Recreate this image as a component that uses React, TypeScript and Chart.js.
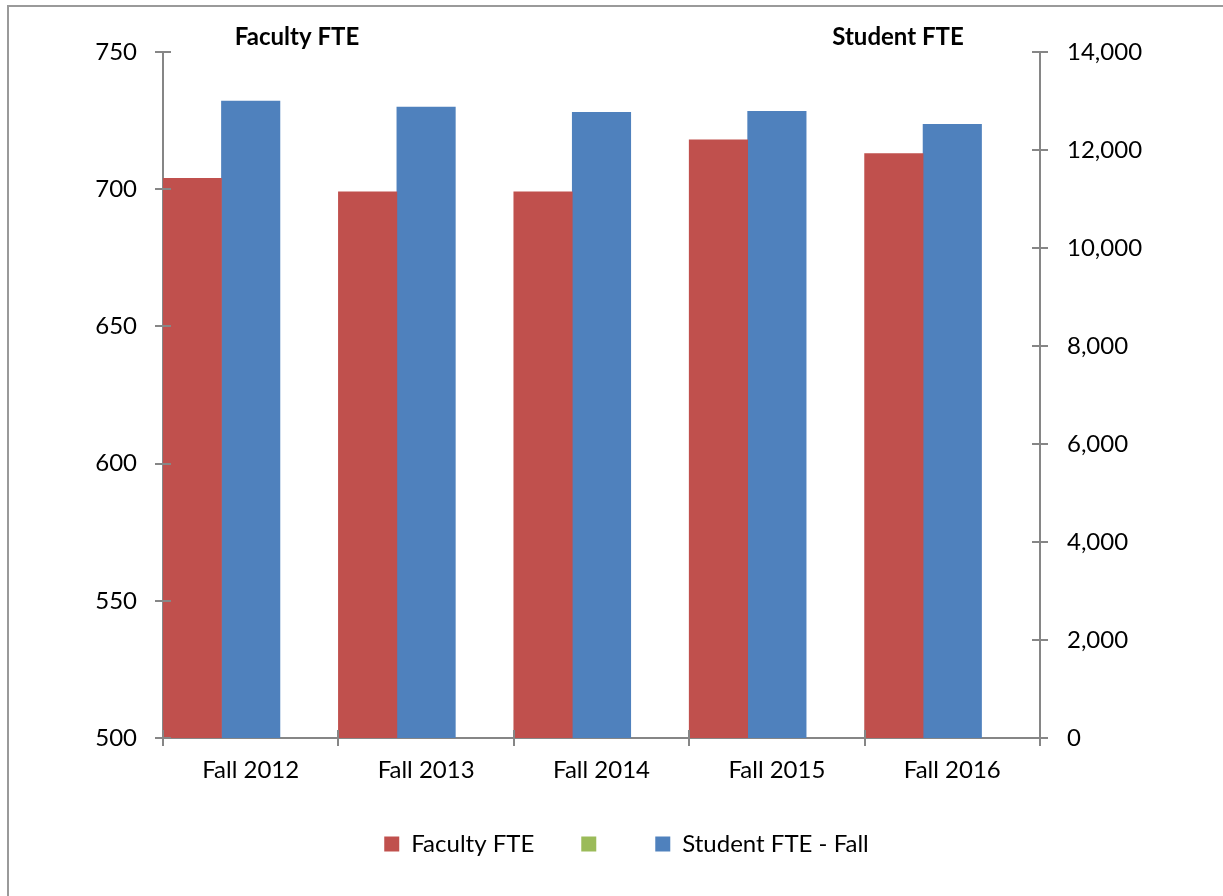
import React, { useEffect, useRef } from "react";
import { Chart, registerables } from "chart.js";

Chart.register(...registerables);

const categories = ["Fall 2012", "Fall 2013", "Fall 2014", "Fall 2015", "Fall 2016"];
const facultyFTE = [704, 699, 699, 718, 713];
const studentFTE = [13000, 12875, 12770, 12790, 12525];
const emptySeries = [null, null, null, null, null];
const leftAxisTitle = "Faculty FTE";
const rightAxisTitle = "Student FTE";
const seriesNames = ["Faculty FTE", "", "Student FTE - Fall"];

const FONT = "Lato";
const AXIS_GRAY = "#868686";

const crossTicks = {
  id: "crossTicks",
  afterDraw(chart: any) {
    const ctx = chart.ctx;
    const x = chart.scales.x;
    const yl = chart.scales.yLeft;
    const yr = chart.scales.yRight;
    ctx.save();
    ctx.strokeStyle = AXIS_GRAY;
    ctx.lineWidth = 2;
    ctx.beginPath();
    yl.ticks.forEach((t: any) => {
      const py = Math.round(yl.getPixelForValue(t.value));
      ctx.moveTo(yl.right - 8, py);
      ctx.lineTo(yl.right + 8, py);
    });
    yr.ticks.forEach((t: any) => {
      const py = Math.round(yr.getPixelForValue(t.value));
      ctx.moveTo(yr.left - 8, py);
      ctx.lineTo(yr.left + 8, py);
    });
    const n = categories.length;
    for (let i = 0; i <= n; i++) {
      const px = Math.round(x.left + (i * (x.right - x.left)) / n);
      ctx.moveTo(px, x.top - 8);
      ctx.lineTo(px, x.top + 8);
    }
    ctx.stroke();
    ctx.fillStyle = "#000";
    ctx.font = `bold 24px ${FONT}`;
    ctx.textAlign = "center";
    ctx.textBaseline = "alphabetic";
    ctx.fillText(leftAxisTitle, 297, 45);
    ctx.fillText(rightAxisTitle, 898, 45);
    ctx.restore();
  },
};

export default function App() {
  const ref = useRef<HTMLCanvasElement>(null);
  useEffect(() => {
    if (!ref.current) return;
    const order = [0, 2, 1];
    const chart = new Chart(ref.current, {
      type: "bar",
      data: {
        labels: categories,
        datasets: [
          {
            label: seriesNames[0],
            data: facultyFTE,
            backgroundColor: "#C0504D",
            yAxisID: "yLeft",
          },
          {
            label: seriesNames[2],
            data: studentFTE,
            backgroundColor: "#4F81BD",
            yAxisID: "yRight",
          },
          {
            label: seriesNames[1],
            data: emptySeries as any,
            backgroundColor: "#9BBB59",
            yAxisID: "yLeft",
          },
        ],
      },
      options: {
        animation: false,
        responsive: false,
        maintainAspectRatio: false,
        datasets: { bar: { categoryPercentage: 1, barPercentage: 1 } },
        layout: { padding: { top: 52, left: 30, right: 0, bottom: 30 } },
        plugins: {
          tooltip: { enabled: false },
          legend: {
            position: "bottom",
            labels: {
              boxWidth: 15,
              boxHeight: 15,
              padding: 47,
              color: "#000",
              font: { family: FONT, size: 24 },
              sort: (a: any, b: any) => order[a.datasetIndex] - order[b.datasetIndex],
            },
          },
        },
        scales: {
          x: {
            offset: true,
            grid: { display: false, drawTicks: false, offset: true },
            border: { display: true, color: AXIS_GRAY, width: 2 },
            ticks: { color: "#000", padding: 18, font: { family: FONT, size: 24 } },
            afterFit: (s: any) => {
              s.height = 47;
            },
          },
          yLeft: {
            position: "left",
            min: 500,
            max: 750,
            grid: { display: false, drawTicks: false },
            border: { display: true, color: AXIS_GRAY, width: 2 },
            ticks: { stepSize: 50, color: "#000", padding: 26, font: { family: FONT, size: 24 } },
            afterFit: (s: any) => {
              s.width = 133;
            },
          },
          yRight: {
            position: "right",
            min: 0,
            max: 14000,
            grid: { display: false, drawTicks: false },
            border: { display: true, color: AXIS_GRAY, width: 2 },
            ticks: {
              stepSize: 2000,
              color: "#000",
              padding: 27,
              font: { family: FONT, size: 24 },
              callback: (v: any) => Number(v).toLocaleString("en-US"),
            },
            afterFit: (s: any) => {
              s.width = 183;
            },
          },
        },
      },
      plugins: [crossTicks],
    });
    return () => chart.destroy();
  }, []);

  return (
    <div style={{ position: "fixed", left: 0, top: 0, width: 1223, height: 896, overflow: "hidden", background: "#fff" }}>
      <div
        style={{
          position: "absolute",
          left: 7,
          top: 5,
          width: 1400,
          height: 1100,
          border: "2px solid #9a9a9a",
        }}
      />
      <canvas ref={ref} width={1223} height={896} style={{ position: "absolute", left: 0, top: 0 }} />
    </div>
  );
}
